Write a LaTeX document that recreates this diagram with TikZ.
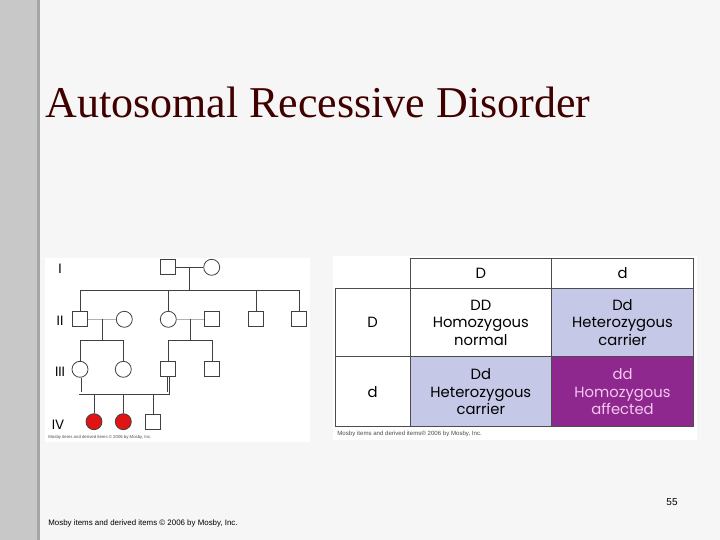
\documentclass[tikz,border=0pt]{standalone}
\usepackage{fontspec}
\setmainfont{Liberation Serif}
\newfontfamily\geofont{Poppins}
\newfontfamily\narrowfont{Liberation Sans}
\usetikzlibrary{calc}
\definecolor{slidebg}{RGB}{246,246,246}
\definecolor{sideband}{RGB}{200,200,200}
\definecolor{titlered}{RGB}{64,0,0}
\definecolor{carrierblue}{RGB}{197,200,230}
\definecolor{affpurple}{RGB}{142,39,142}
\definecolor{affpink}{RGB}{245,200,240}
\definecolor{affred}{RGB}{225,20,20}
\begin{document}
\begin{tikzpicture}[x=1pt, y=-1pt, line width=0.8pt, draw=black!75,
      male/.style={draw, minimum size=15pt, inner sep=0pt, fill=white},
      female/.style={draw, circle, minimum size=16pt, inner sep=0pt, fill=white},
      affected/.style={fill=affred},
      gen/.style={font=\geofont\fontsize{13.5}{14}\selectfont},
      credit/.style={anchor=west, text=black!70, inner sep=0pt},
      pcell/.style={draw=black!70, line width=0.8pt, align=center, inner sep=0pt, minimum width=141.7pt,
        font=\geofont\fontsize{14.8}{17.5}\selectfont},
      rowhead/.style={pcell, minimum width=75pt}]
    \useasboundingbox (0,0) rectangle (720,540);
    \fill[slidebg] (0,0) rectangle (720,540);
    \fill[sideband] (0,0) rectangle (37,540);
    \fill[black!35] (37,0) rectangle (39.5,540);
    \node[anchor=base west, inner sep=0pt, font=\fontsize{44}{44}\selectfont, text=titlered] (title) at (45,118) {Autosomal Recessive Disorder};

    \fill[white] (45,258) rectangle (310,442);
    \node[male]   (i1)   at (167.7,267.3) {};
    \node[female] (i2)   at (211.7,267.3) {};
    \node[male]   (ii1)  at (80,319.3) {};
    \node[female] (ii2)  at (124.3,319.3) {};
    \node[female] (ii3)  at (168.3,319.3) {};
    \node[male]   (ii4)  at (212.3,319.3) {};
    \node[male]   (ii5)  at (256,319.3) {};
    \node[male]   (ii6)  at (299.3,319.3) {};
    \node[female] (iii1) at (80,369.3) {};
    \node[female] (iii2) at (123.3,369.3) {};
    \node[male]   (iii3) at (168.3,369.3) {};
    \node[male]   (iii4) at (212.3,369.3) {};
    \node[female, affected] (iv1) at (94,421.7) {};
    \node[female, affected] (iv2) at (123.3,421.7) {};
    \node[male]   (iv3)  at (153.3,421.7) {};
    \node[gen] (gI)   at (60,269) {I};
    \node[gen] (gII)  at (60,321) {II};
    \node[gen] (gIII) at (60,372) {III};
    \node[gen] (gIV)  at (58,425) {IV};
    \node[credit, font=\narrowfont\fontsize{4.3}{5}\selectfont] (pedcredit) at (48,437.5) {Mosby items and derived items © 2006 by Mosby, Inc.};

    \coordinate (sibII) at (0,290.7);
    \coordinate (sibIII) at (0,340);
    \coordinate (consIII) at (0,393);
    \coordinate (cI) at ($(i1)!.5!(i2)$);
    \coordinate (cII1) at ($(ii1)!.5!(ii2)$);
    \coordinate (cII2) at ($(ii3)!.5!(ii4)$);
    \draw (i1) -- (i2);
    \draw (cI) -- (cI |- sibII);
    \draw (ii1.north) -- (ii1.north |- sibII) -- (ii6.north |- sibII) -- (ii6.north);
    \foreach \n in {ii3,ii5}
      \draw (\n.north) -- (\n.north |- sibII);
    \draw[gray!60] (ii1) -- (ii2);
    \draw[gray!60] (ii3) -- (ii4);
    \draw (cII1) -- (cII1 |- sibIII);
    \draw (cII2) -- (cII2 |- sibIII);
    \draw (iii1.north) -- (iii1.north |- sibIII) -- (iii2.north |- sibIII) -- (iii2.north);
    \draw (iii3.north) -- (iii3.north |- sibIII) -- (iii4.north |- sibIII) -- (iii4.north);
    \foreach \n in {iv1,iv2,iv3}
      \draw (\n.north |- consIII) -- (\n.north);
    \draw[double, double distance=1.6pt, line width=0.7pt] (iii1.south) -- (iii1.south |- consIII) -- (iii3.south |- consIII) -- (iii3.south);

    \fill[white] (333,256) rectangle (697,440);
    \node[pcell, minimum height=30pt] (colD) at (480.85,273.3) {D};
    \node[pcell, minimum height=30pt] (cold) at (622.5,273.3) {d};
    \node[rowhead, minimum height=68.4pt] (rowD) at (372.5,322.5) {D};
    \node[rowhead, minimum height=70pt] (rowd) at (372.5,391.7) {d};
    \node[pcell, minimum height=68.4pt] (DD) at (480.85,322.5) {DD\\Homozygous\\normal};
    \node[pcell, minimum height=68.4pt, fill=carrierblue] (Dd1) at (622.5,322.5) {Dd\\Heterozygous\\carrier};
    \node[pcell, minimum height=70pt, fill=carrierblue] (Dd2) at (480.85,391.7) {Dd\\Heterozygous\\carrier};
    \node[pcell, minimum height=70pt, fill=affpurple, text=affpink] (dd) at (622.5,391.7) {dd\\Homozygous\\affected};
    \node[credit, font=\narrowfont\fontsize{6.1}{7}\selectfont] (puncredit) at (337,433.5) {Mosby items and derived items® 2006 by Mosby, Inc.};

    \node[font=\narrowfont\fontsize{10}{10}\selectfont] (page) at (672,502) {55};
    \node[credit, text=black, font=\narrowfont\fontsize{7.9}{8}\selectfont] (foot) at (48,523) {Mosby items and derived items © 2006 by Mosby, Inc.};
  \end{tikzpicture}
\end{document}
